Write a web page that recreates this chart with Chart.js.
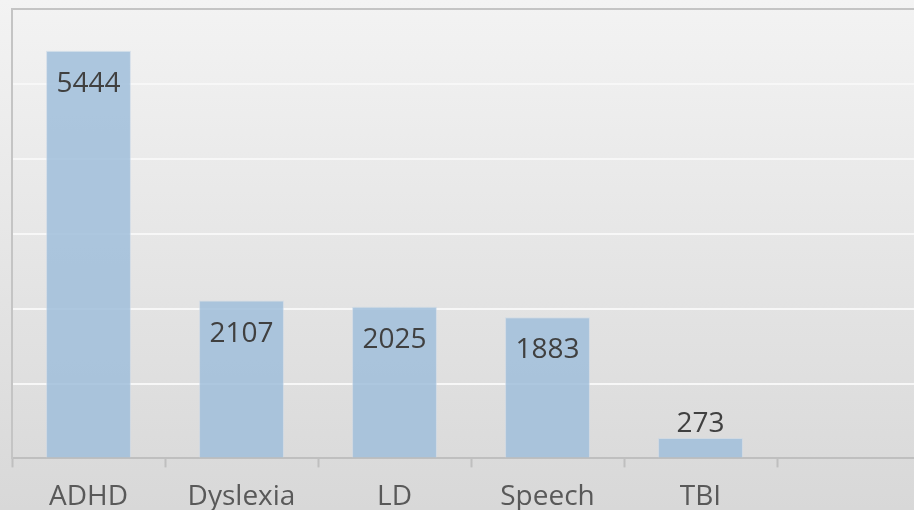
<!DOCTYPE html>
<html>
<head>
<meta charset="utf-8">
<script src="https://cdn.jsdelivr.net/npm/chart.js@4.4.0/dist/chart.umd.min.js"></script>
<style>
  html, body { margin: 0; padding: 0; }
  #wrap {
    width: 914px; height: 510px; overflow: hidden;
    background: linear-gradient(#f3f3f3, #d8d8d8);
  }
  #myChart { display: block; }
</style>
</head>
<body>
<div id="wrap">
  <canvas id="myChart" width="930" height="533" style="width:930px;height:533px"></canvas>
</div>
<script>
const categories = ['ADHD', 'Dyslexia', 'LD', 'Speech', 'TBI', ''];
const counts = [5444, 2107, 2025, 1883, 273, null];

// values drawn on the bars: inside near the top, or above if the bar is short
const valueLabels = {
  id: 'valueLabels',
  afterDatasetsDraw(chart) {
    const ctx = chart.ctx;
    const meta = chart.getDatasetMeta(0);
    ctx.save();
    ctx.font = '28px "Open Sans"';
    ctx.fillStyle = '#404040';
    ctx.textAlign = 'center';
    ctx.textBaseline = 'middle';
    meta.data.forEach((bar, i) => {
      const v = counts[i];
      if (v === null) return;
      const h = bar.base - bar.y;
      const y = h > 60 ? bar.y + 33 : bar.y - 14;
      ctx.fillText(String(v), bar.x, y);
    });
    ctx.restore();
  }
};

function graph() {
  const config = {
    type: 'bar',
    data: {
      labels: categories,
      datasets: [{
        data: counts,
        backgroundColor: 'rgba(160, 190, 218, 0.85)',
        borderColor: 'rgba(200, 215, 230, 0.6)',
        borderWidth: 1,
        barPercentage: 0.555,
        categoryPercentage: 1
      }]
    },
    options: {
      responsive: false,
      animation: false,
      layout: { padding: { left: 12, top: 9, right: 0, bottom: 6 } },
      plugins: {
        legend: { display: false },
        tooltip: { enabled: false }
      },
      scales: {
        x: {
          grid: {
            drawOnChartArea: false,
            drawTicks: true,
            tickLength: 9,
            tickColor: '#bfbfbf',
            tickWidth: 2
          },
          border: { color: '#bfbfbf', width: 2 },
          ticks: {
            color: '#595959',
            font: { family: '"Open Sans"', size: 28 },
            padding: 13,
            maxRotation: 0
          }
        },
        y: {
          min: 0,
          max: 6000,
          ticks: { display: false, stepSize: 1000 },
          grid: {
            drawTicks: false,
            color: ctx => ctx.tick.value === 6000 ? '#c4c4c4' : '#f7f7f7',
            lineWidth: 2
          },
          border: { color: '#c4c4c4', width: 2 }
        }
      }
    },
    plugins: [valueLabels]
  };
  const wrapper = document.querySelector('#myChart');
  return new Chart(wrapper, config);
}

graph();
</script>
</body>
</html>
